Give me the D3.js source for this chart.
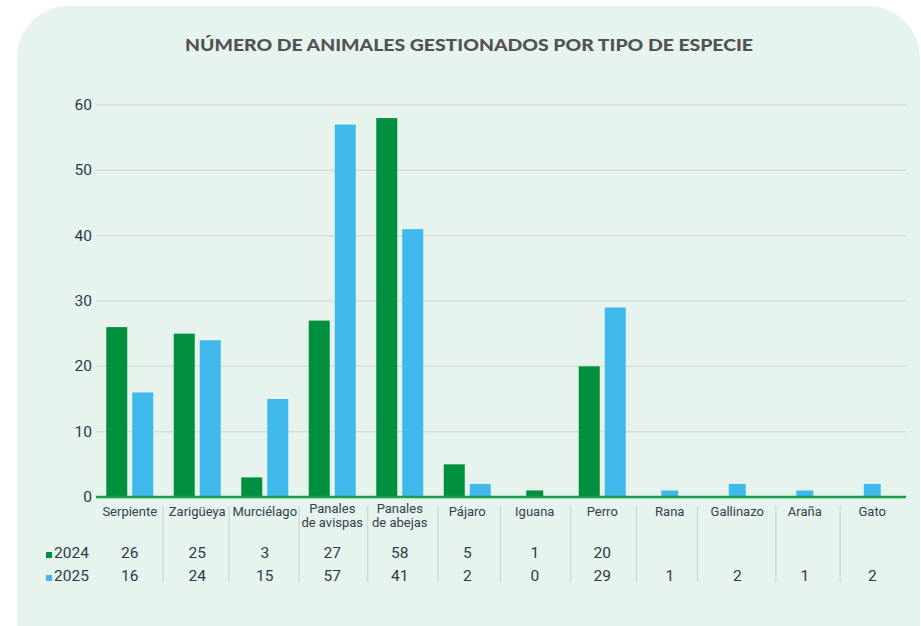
<!DOCTYPE html>
<html>
<head>
<meta charset="utf-8">
<script src="https://cdn.jsdelivr.net/npm/d3@7/dist/d3.min.js"></script>
<style>
  html, body { margin: 0; padding: 0; background: #ffffff; }
  svg { display: block; }
</style>
</head>
<body>
<svg id="chart" width="921" height="626"></svg>
<script>
// Especies atendidas y animales gestionados por año
const categories = ["Serpiente", "Zarigüeya", "Murciélago", "Panales\nde avispas", "Panales\nde abejas",
                    "Pájaro", "Iguana", "Perro", "Rana", "Gallinazo", "Araña", "Gato"];
const seriesNames = ["2024", "2025"];
const values2024 = [26, 25, 3, 27, 58, 5, 1, 20, null, null, null, null];
const values2025 = [16, 24, 15, 57, 41, 2, 0, 29, 1, 2, 1, 2];
const yTicks = [0, 10, 20, 30, 40, 50, 60];
const title = "NÚMERO DE ANIMALES GESTIONADOS POR TIPO DE ESPECIE";

const seriesValues = { "2024": values2024, "2025": values2025 };
const colors = { "2024": "#008f3e", "2025": "#3fb9eb" };

const W = 921, H = 626;
const svg = d3.select("#chart");
const textColor = "#2b3a4c";
const font = "Roboto, 'Noto Sans', sans-serif";

// Panel with rounded top corners
const px0 = 17, py0 = 6, px1 = 920, r = 52;
svg.append("path")
  .attr("d", `M${px0},${H} L${px0},${py0 + r} A${r},${r} 0 0 1 ${px0 + r},${py0} L${px1 - r},${py0} A${r},${r} 0 0 1 ${px1},${py0 + r} L${px1},${H} Z`)
  .attr("fill", "#e7f4ed");

// Title
svg.append("text")
  .attr("x", 469).attr("y", 51)
  .attr("text-anchor", "middle")
  .attr("font-family", "Lato, 'Open Sans', sans-serif")
  .attr("font-weight", 900)
  .attr("font-size", 17.5)
  .attr("fill", "#525252")
  .attr("textLength", 568)
  .attr("lengthAdjust", "spacingAndGlyphs")
  .text(title);

// Scales
const x = d3.scaleBand().domain(categories).range([96, 906]).padding(0);
const y = d3.scaleLinear().domain([0, 60]).range([497, 105]);

// Gridlines and y labels
const grid = svg.append("g");
grid.selectAll("line").data(yTicks.filter(t => t > 0)).join("line")
  .attr("x1", 96).attr("x2", 906)
  .attr("y1", d => y(d)).attr("y2", d => y(d))
  .attr("stroke", "#d9dcda").attr("stroke-width", 1.5);

svg.append("g").selectAll("text").data(yTicks).join("text")
  .attr("x", 92).attr("y", d => y(d)).attr("dy", "0.33em")
  .attr("text-anchor", "end")
  .attr("font-family", font).attr("font-size", 15.5)
  .attr("fill", textColor)
  .text(d => d);

// Bars: only non-zero values are drawn, centred inside each category
const barWidth = 21, barGap = 5;
const barsG = svg.append("g");
categories.forEach((cat, i) => {
  const shown = seriesNames.filter(s => seriesValues[s][i] != null && seriesValues[s][i] > 0);
  if (!shown.length) return;
  const c = x(cat) + x.bandwidth() / 2;
  const span = shown.length * (barWidth + barGap) - barGap;
  const inner = d3.scaleBand().domain(shown)
    .range([c - span / 2, c + span / 2])
    .paddingInner(barGap / (barWidth + barGap)).paddingOuter(0);
  shown.forEach(s => {
    const v = seriesValues[s][i];
    barsG.append("rect")
      .attr("x", inner(s)).attr("width", inner.bandwidth())
      .attr("y", y(v)).attr("height", y(0) - y(v))
      .attr("fill", colors[s]);
  });
});

// Baseline
svg.append("line")
  .attr("x1", 96).attr("x2", 906)
  .attr("y1", y(0)).attr("y2", y(0))
  .attr("stroke", "#14a04a").attr("stroke-width", 2.5);

// Category labels
const labelG = svg.append("g");
const edges = [];
categories.forEach(cat => {
  const lines = cat.split("\n");
  const c = x(cat) + x.bandwidth() / 2;
  const t = labelG.append("text")
    .attr("x", c)
    .attr("y", lines.length > 1 ? 513 : 516)
    .attr("text-anchor", "middle")
    .attr("font-family", font).attr("font-size", 13)
    .attr("fill", "#34404f");
  lines.forEach((ln, k) => {
    t.append("tspan").attr("x", c).attr("dy", k === 0 ? 0 : 13.5).text(ln);
  });
  const w = d3.max(t.selectAll("tspan").nodes(), n => n.getComputedTextLength());
  edges.push([c - w / 2, c + w / 2]);
});

// Table separators sit midway between neighbouring labels
svg.append("g").selectAll("line").data(d3.range(categories.length - 1)).join("line")
  .attr("x1", i => (edges[i][1] + edges[i + 1][0]) / 2)
  .attr("x2", i => (edges[i][1] + edges[i + 1][0]) / 2)
  .attr("y1", 506).attr("y2", 582)
  .attr("stroke", "#d6dad7").attr("stroke-width", 1.5);

// Data table rows with legend keys
const rowY = { "2024": 558, "2025": 581 };
seriesNames.forEach(s => {
  const g = svg.append("g");
  g.append("rect")
    .attr("x", 46).attr("y", rowY[s] - 6).attr("width", 6).attr("height", 6)
    .attr("fill", colors[s]);
  g.append("text")
    .attr("x", 54).attr("y", rowY[s])
    .attr("font-family", font).attr("font-size", 15.5)
    .attr("fill", textColor)
    .text(s);
  g.selectAll("text.v").data(categories.map((c, i) => ({ c, v: seriesValues[s][i] })).filter(d => d.v != null))
    .join("text").attr("class", "v")
    .attr("x", d => x(d.c) + x.bandwidth() / 2)
    .attr("y", rowY[s])
    .attr("text-anchor", "middle")
    .attr("font-family", font).attr("font-size", 15.5)
    .attr("fill", textColor)
    .text(d => d.v);
});
</script>
</body>
</html>
